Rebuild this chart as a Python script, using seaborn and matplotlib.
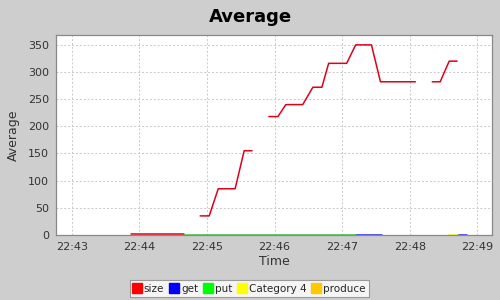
import matplotlib
matplotlib.use("Agg")
import matplotlib.pyplot as plt
import matplotlib.dates as mdates
from matplotlib.lines import Line2D
import numpy as np
import pandas as pd
import seaborn as sns

DAY = "2020-01-01 "

size_times = ["22:43:53", "22:44:40", "22:44:47",
              "22:44:54", "22:45:02", "22:45:10", "22:45:25", "22:45:33", "22:45:40", "22:45:47",
              "22:45:55", "22:46:03", "22:46:10", "22:46:25", "22:46:34", "22:46:42",
              "22:46:48", "22:47:04", "22:47:12", "22:47:26", "22:47:34", "22:48:05", "22:48:12",
              "22:48:20", "22:48:27", "22:48:35", "22:48:42"]
size_values = [2, 2, np.nan,
               35, 35, 85, 85, 155, 155, np.nan,
               218, 218, 240, 240, 272, 272,
               316, 316, 350, 350, 282, 282, np.nan,
               282, 282, 320, 320]

get_times = ["22:47:12", "22:47:35", "22:47:42", "22:48:43", "22:48:51"]
get_values = [0, 0, np.nan, 0, 0]

put_times = ["22:44:40", "22:47:12"]
put_values = [0, 0]

cat4_times = ["22:48:34", "22:48:43"]
cat4_values = [0, 0]

produce_times = []
produce_values = []

series_names = ["size", "get", "put", "Category 4", "produce"]
series_colors = ["#FF0000", "#0000FF", "#00FF00", "#FFFF00", "#FFC800"]
line_colors = ["#E0001A", "#3030E0", "#40C040", "#E8E840", "#FFC800"]


def segments(times, values, name):
    df = pd.DataFrame({"time": pd.to_datetime([DAY + t for t in times]),
                       "value": values, "series": name})
    df["seg"] = df["value"].isna().cumsum()
    return df.dropna()


frames = [segments(size_times, size_values, "size"),
          segments(get_times, get_values, "get"),
          segments(put_times, put_values, "put"),
          segments(cat4_times, cat4_values, "Category 4"),
          segments(produce_times, produce_values, "produce")]

sns.set_style("white")
plt.rcParams["font.family"] = ["DejaVu Sans"]

fig = plt.figure(figsize=(5, 3), dpi=100, facecolor="#CECECE")
ax = fig.add_axes([0.112, 0.217, 0.872, 0.666])
ax.set_facecolor("white")

for df, name, col in zip(frames, series_names, line_colors):
    if len(df) == 0:
        continue
    sns.lineplot(data=df, x="time", y="value", units="seg", estimator=None,
                 color=col, linewidth=1.1, ax=ax, legend=False, zorder=3)

ax.set_xlim(pd.Timestamp(DAY + "22:42:46"), pd.Timestamp(DAY + "22:49:13"))
ax.set_ylim(0, 368)
ax.set_yticks(np.arange(0, 351, 50))
ax.xaxis.set_major_locator(mdates.MinuteLocator())
ax.xaxis.set_major_formatter(mdates.DateFormatter("%H:%M"))

ax.grid(True, color="#C8C8C8", linestyle=(0, (2, 2)), linewidth=0.7)
for s in ax.spines.values():
    s.set_color("#888888")
    s.set_linewidth(0.9)
ax.tick_params(axis="both", direction="out", length=3, width=0.8, color="#888888",
               labelsize=8, labelcolor="#333333", pad=2)

ax.set_xlabel("Time", fontsize=9, color="#333333", labelpad=2)
ax.set_ylabel("Average", fontsize=9, color="#333333", labelpad=6)
fig.suptitle("Average", fontsize=13, fontweight="bold", color="black", y=0.975)

handles = [Line2D([0], [0], marker="s", linestyle="none", markersize=7,
                  markerfacecolor=c, markeredgecolor=c) for c in series_colors]
leg = fig.legend(handles, series_names, loc="center", bbox_to_anchor=(0.499, 0.038),
                 ncol=5, frameon=True, fancybox=False, fontsize=7.5,
                 handlelength=0.7, handletextpad=0.3, columnspacing=0.6,
                 borderpad=0.3, borderaxespad=0)
leg.get_frame().set_edgecolor("#888888")
leg.get_frame().set_facecolor("white")
leg.get_frame().set_linewidth(0.8)

fig.savefig("out.png", dpi=100, facecolor=fig.get_facecolor())
